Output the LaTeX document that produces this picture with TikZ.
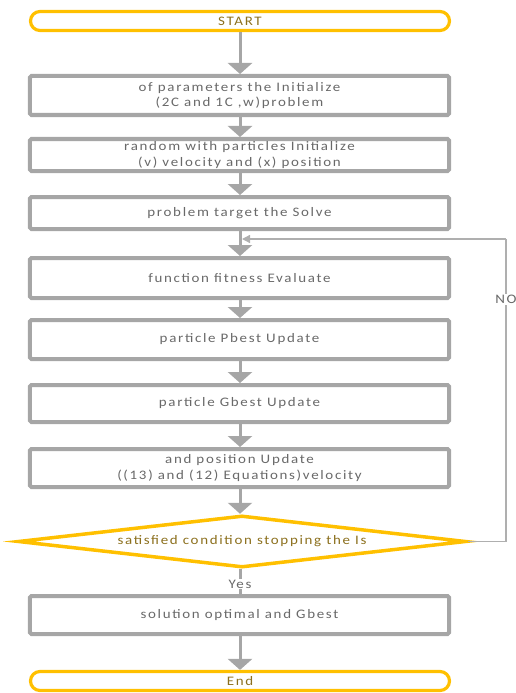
\documentclass[tikz,border=0pt]{standalone}
\usepackage{fontspec}
\setmainfont{Carlito}[FakeStretch=1.15,LetterSpace=13]
\usetikzlibrary{shapes.geometric,arrows.meta}
\definecolor{boxgray}{RGB}{166,166,166}
\definecolor{txtgray}{RGB}{105,105,105}
\definecolor{loopgray}{RGB}{175,175,175}
\definecolor{gold}{RGB}{255,192,0}
\definecolor{goldtxt}{RGB}{140,112,30}
\tikzset{
  txt/.style={font=\fontsize{13bp}{15.5bp}\selectfont},
  stepbox/.style={txt, draw=boxgray, line width=4bp, rounded corners=1.5bp, fill=white,
    minimum width=419bp, inner sep=0pt, align=center, text=txtgray},
  terminal/.style={txt, draw=gold, line width=3.2bp, rounded corners=9.5bp, fill=white,
    minimum width=419bp, minimum height=19bp, inner sep=0pt, text=goldtxt},
  decision/.style={txt, draw=gold, line width=3.5bp, diamond, fill=white, inner sep=0pt,
    minimum width=448bp, minimum height=52bp, aspect=8.6, text=goldtxt},
  flow/.style={draw=boxgray, line width=3bp, -{Triangle[width=24bp,length=11bp]}},
  loopline/.style={draw=loopgray, line width=1.3bp},
  lbl/.style={txt, fill=white, inner sep=1bp, text=txtgray}
}
\begin{document}
\begin{tikzpicture}[x=1bp,y=-1bp]
\useasboundingbox (0,0) rectangle (516,693);
\node[terminal] (start) at (240,21) {START};
\node[stepbox, minimum height=39bp] (init) at (239.5,95.5) {of parameters the Initialize\\(2C and 1C ,w)problem};
\node[stepbox, minimum height=32bp] (rand) at (239.5,155) {random with particles Initialize\\(v) velocity and (x) position};
\node[stepbox, minimum height=32bp] (solve) at (239.5,213) {problem target the Solve};
\node[stepbox, minimum height=40bp] (eval) at (239.5,278) {function fitness Evaluate};
\node[stepbox, minimum height=39bp] (pbest) at (239.5,339.5) {particle Pbest Update};
\node[stepbox, minimum height=37bp] (gbest) at (239.5,403.5) {particle Gbest Update};
\node[stepbox, minimum height=38bp] (upd) at (239.5,468) {and position Update\\((13) and (12) Equations)velocity};
\node[decision] (stop) at (242,541.5) {satisfied condition stopping the Is};
\node[stepbox, minimum height=38bp] (sol) at (239.5,615) {solution optimal and Gbest};
\node[terminal] (end) at (240,681) {End};

\coordinate (merge) at (240,239);
\coordinate (turnA) at (506,541.5);
\coordinate (turnB) at (506,239);

\draw[flow] (start.south -| merge) -- (init.north -| merge);
\draw[flow] (init.south -| merge) -- (rand.north -| merge);
\draw[flow] (rand.south -| merge) -- (solve.north -| merge);
\draw[flow] (solve.south -| merge) -- (eval.north -| merge);
\draw[flow] (eval.south -| merge) -- (pbest.north -| merge);
\draw[flow] (pbest.south -| merge) -- (gbest.north -| merge);
\draw[flow] (gbest.south -| merge) -- (upd.north -| merge);
\draw[flow] (upd.south -| merge) -- (stop.north -| merge);
\draw[draw=boxgray, line width=3bp] (stop.south -| merge) -- (sol.north -| merge)
  node[lbl, pos=0.6] (yes) {Yes};
\draw[flow] (sol.south -| merge) -- (end.north -| merge);

\draw[loopline] (stop.east) -- (turnA) -- (turnB)
  node[lbl, pos=0.8] (no) {NO};
\draw[loopline, -{Triangle[width=8bp,length=8bp]}] (turnB) -- ([xshift=2bp]merge);
\end{tikzpicture}
\end{document}
